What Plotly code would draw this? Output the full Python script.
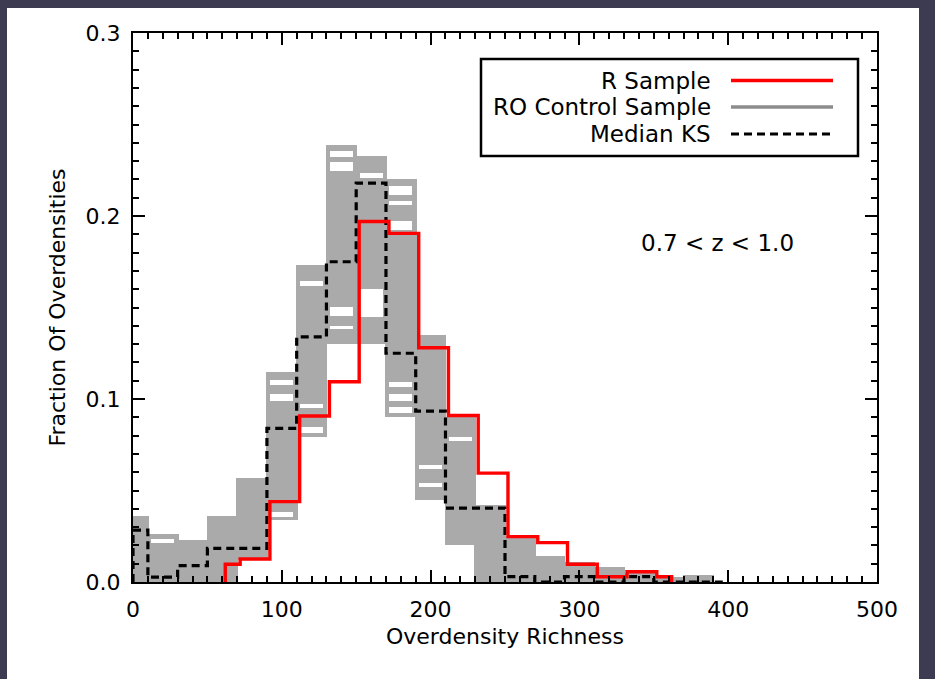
import plotly.graph_objects as go

# ---------------- data ----------------
# bin centres (IDL psym=10 style histograms, bin width 20)
bin_centers = [0, 20, 40, 60, 80, 100, 120, 140, 160, 180, 200, 220, 240,
               260, 280, 300, 320, 340, 360, 380]
# envelope of the RO control-sample histograms
gray_low = [0.0, 0.0, 0.0, 0.0, 0.012, 0.034, 0.079, 0.130, 0.130, 0.090,
            0.045, 0.020, 0.0, 0.0, 0.0, 0.0, 0.0, 0.0, 0.0, 0.0]
gray_high = [0.036, 0.026, 0.023, 0.036, 0.057, 0.115, 0.173, 0.239, 0.233,
             0.220, 0.135, 0.090, 0.042, 0.025, 0.014, 0.011, 0.008, 0.005,
             0.003, 0.004]
# levels inside the envelope not reached by any control sample
gap_bin = [20, 100, 100, 100, 120, 120, 120, 140, 140, 140, 140, 160, 160,
           180, 180, 180, 180, 180, 180, 200, 200, 220]
gap_lo = [0.0212, 0.0355, 0.0990, 0.1075, 0.0815, 0.0950, 0.1615, 0.2325,
          0.2245, 0.1455, 0.1380, 0.2205, 0.1450, 0.2115, 0.2060, 0.1925,
          0.1065, 0.0990, 0.0925, 0.0620, 0.0520, 0.0770]
gap_hi = [0.0236, 0.0385, 0.1030, 0.1105, 0.0845, 0.0970, 0.1645, 0.2355,
          0.2295, 0.1505, 0.1400, 0.2235, 0.1600, 0.2165, 0.2080, 0.1975,
          0.1095, 0.1030, 0.0955, 0.0640, 0.0540, 0.0790]

# median KS histogram
ks_centers = list(range(0, 401, 20))
ks_values = [0.0284, 0.0027, 0.0089, 0.0184, 0.0184, 0.084, 0.134, 0.175,
             0.218, 0.125, 0.0934, 0.0404, 0.0404, 0.0029, 0.0, 0.0029, 0.0,
             0.0029, 0.0, 0.0, 0.0]

# R sample histogram
r_centers = [62, 82, 102, 122, 142, 162, 182, 202, 222, 242, 262, 282, 302,
             322, 342, 362]
r_values = [0.0097, 0.0126, 0.0439, 0.0907, 0.1094, 0.197, 0.1905, 0.128,
            0.091, 0.0595, 0.0248, 0.0215, 0.0097, 0.0029, 0.0056, 0.0029]

x_ticks = [0, 100, 200, 300, 400, 500]
y_ticks = [0.0, 0.1, 0.2, 0.3]
y_tick_text = ["0.0", "0.1", "0.2", "0.3"]
legend_names = ["R Sample", "RO Control Sample", "Median KS"]

# ---------------- helpers ----------------
HALF = 10


def edges_of(centers):
    n = len(centers)
    lefts, rights = [], []
    for i, c in enumerate(centers):
        lefts.append(c if i == 0 else c - HALF)
        rights.append(c if i == n - 1 else c + HALF)
    return lefts, rights


def step_xy(centers, values):
    lefts, rights = edges_of(centers)
    xs = [lefts[0]]
    ys = [0.0]
    for l, v in zip(lefts, values):
        xs.append(l)
        ys.append(v)
    xs.append(rights[-1])
    ys.append(values[-1])
    xs.append(rights[-1])
    ys.append(0.0)
    return xs, ys


# gray envelope bars (first bin half-width from 0)
g_left = [max(c - HALF, 0) for c in bin_centers]
g_right = [c + HALF for c in bin_centers]
g_mid = [(a + b) / 2 for a, b in zip(g_left, g_right)]
g_w = [(b - a) + 1.2 for a, b in zip(g_left, g_right)]

GRAY = "#aaaaaa"
fig = go.Figure()
fig.add_trace(go.Bar(
    x=g_mid, y=[h - l for h, l in zip(gray_high, gray_low)], base=gray_low,
    width=g_w, marker=dict(color=GRAY, line=dict(width=0)),
    showlegend=False, hoverinfo="skip"))

gap_mid = [c if c > 0 else 5 for c in gap_bin]
fig.add_trace(go.Bar(
    x=gap_mid, y=[h - l for h, l in zip(gap_hi, gap_lo)], base=gap_lo,
    width=[15.5] * len(gap_bin), marker=dict(color="white", line=dict(width=0)),
    showlegend=False, hoverinfo="skip"))

kx, ky = step_xy(ks_centers, ks_values)
fig.add_trace(go.Scatter(x=kx, y=ky, mode="lines", line_shape="hv",
                         line=dict(color="black", width=3.2, dash="8px,5px"),
                         showlegend=False, hoverinfo="skip"))

rx, ry = step_xy(r_centers, r_values)
fig.add_trace(go.Scatter(x=rx, y=ry, mode="lines", line_shape="hv",
                         line=dict(color="#ff0000", width=3.4),
                         showlegend=False, hoverinfo="skip"))

# ---------------- layout ----------------
W, H = 935, 679
L, R, T, B = 133, 877, 33, 582
FONT = "DejaVu Sans"


def px(xp):
    return (xp - L) / (R - L)


def py(yp):
    return (B - yp) / (B - T)


shapes = [
    # dark frame (background) with white page
    dict(type="rect", xref="paper", yref="paper", x0=px(7), x1=px(919),
         y0=py(8), y1=py(H + 5), fillcolor="white", line=dict(width=0),
         layer="below"),
    # legend box
    dict(type="rect", xref="paper", yref="paper", x0=px(481), x1=px(858),
         y0=py(156), y1=py(59), line=dict(color="black", width=2.5),
         fillcolor="white", layer="above"),
    dict(type="line", xref="paper", yref="paper", x0=px(731), x1=px(833),
         y0=py(80.5), y1=py(80.5), line=dict(color="#ff0000", width=3.4)),
    dict(type="line", xref="paper", yref="paper", x0=px(731), x1=px(833),
         y0=py(107), y1=py(107), line=dict(color="#8c8c8c", width=3.4)),
    dict(type="line", xref="paper", yref="paper", x0=px(731), x1=px(833),
         y0=py(134), y1=py(134),
         line=dict(color="black", width=3.2, dash="8px,5px")),
]

annotations = []
for name, yy in zip(legend_names, [80.5, 107, 134]):
    annotations.append(dict(xref="paper", yref="paper", x=px(713), y=py(yy),
                            text=name, showarrow=False, xanchor="right",
                            yanchor="middle",
                            font=dict(family=FONT, size=23, color="black")))
annotations.append(dict(xref="paper", yref="paper", x=px(717), y=py(243),
                        text="0.7 &lt; z &lt; 1.0", showarrow=False,
                        xanchor="center", yanchor="middle",
                        font=dict(family=FONT, size=23, color="black")))

axis_common = dict(showgrid=False, zeroline=False, showline=True,
                   linecolor="black", linewidth=2.2, mirror="ticks",
                   ticks="inside", tickcolor="black", tickwidth=2,
                   ticklen=12,
                   tickfont=dict(family=FONT, size=22, color="black"))

fig.update_layout(
    width=W, height=H,
    margin=dict(l=L, r=W - R, t=T, b=H - B, pad=0),
    paper_bgcolor="#3d3b51", plot_bgcolor="rgba(0,0,0,0)",
    barmode="overlay", bargap=0,
    showlegend=False,
    font=dict(family=FONT, size=22, color="black"),
    xaxis=dict(range=[0, 500], tickvals=x_ticks,
               minor=dict(dtick=10, ticklen=6, tickwidth=2, ticks="inside",
                          tickcolor="black"),
               title=dict(text="Overdensity Richness",
                          font=dict(family=FONT, size=22), standoff=8),
               ticklabelstandoff=6,
               **axis_common),
    yaxis=dict(range=[0, 0.3], tickvals=y_ticks, ticktext=y_tick_text,
               minor=dict(dtick=0.01, ticklen=6, tickwidth=2, ticks="inside",
                          tickcolor="black"),
               title=dict(text="Fraction Of Overdensities",
                          font=dict(family=FONT, size=22), standoff=14),
               ticklabelstandoff=6,
               **axis_common),
    shapes=shapes, annotations=annotations,
)

fig.write_html("out.html")
